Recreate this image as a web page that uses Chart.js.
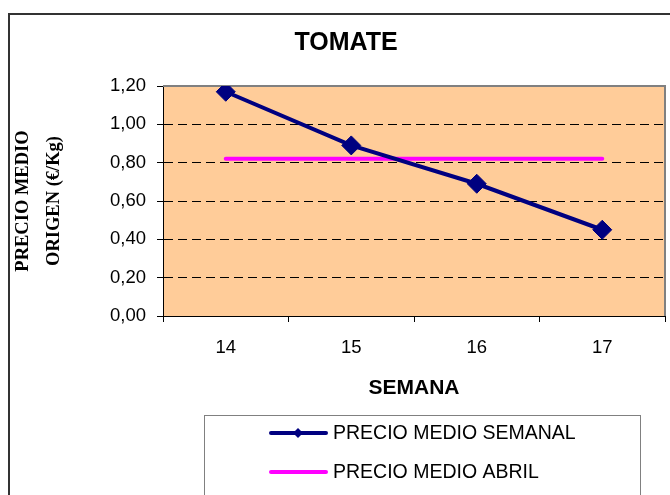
<!DOCTYPE html>
<html>
<head>
<meta charset="utf-8">
<script src="https://cdn.jsdelivr.net/npm/chart.js@4/dist/chart.umd.min.js"></script>
<style>
  html, body { margin: 0; padding: 0; background: #fff; overflow: hidden; }
  #wrap { position: relative; width: 670px; height: 495px; overflow: hidden; }
  canvas { display: block; }
</style>
</head>
<body>
<div id="wrap"><canvas id="chart" width="692" height="495"></canvas></div>
<script>
const semanas = ["14", "15", "16", "17"]
const precioSemanal = [1.17, 0.89, 0.69, 0.45]
const precioAbril = [0.82, 0.82, 0.82, 0.82]
const yTickLabels = ["0,00", "0,20", "0,40", "0,60", "0,80", "1,00", "1,20"]

const sans = "'Liberation Sans', Arial, sans-serif"
const serif = "'Liberation Serif', 'Times New Roman', serif"

// plot background, outer frame and grey top/right edge of the plot
const frame = {
  id: "frame",
  beforeDraw(chart) {
    const { ctx, chartArea: a } = chart
    ctx.save()
    ctx.fillStyle = "#FFCC99"
    ctx.fillRect(a.left, a.top, a.right - a.left, a.bottom - a.top)
    ctx.strokeStyle = "#333"
    ctx.lineWidth = 2
    ctx.strokeRect(9, 14, 900, 700)
    ctx.restore()
  },
  beforeDatasetsDraw(chart) {
    const { ctx, chartArea: a } = chart
    ctx.save()
    ctx.strokeStyle = "#808080"
    ctx.lineWidth = 2
    ctx.beginPath()
    ctx.moveTo(a.left, a.top)
    ctx.lineTo(a.right, a.top)
    ctx.lineTo(a.right, a.bottom)
    ctx.stroke()
    ctx.restore()
  },
}

// boxed legend under the axis title, one series per row
const boxLegend = {
  id: "boxLegend",
  afterDraw(chart) {
    const { ctx } = chart
    ctx.save()
    ctx.strokeStyle = "#808080"
    ctx.lineWidth = 1
    ctx.strokeRect(204.5, 415.5, 436, 200)
    ctx.font = "19.5px " + sans
    ctx.textBaseline = "middle"
    chart.data.datasets.forEach((ds, i) => {
      const y = 433 + i * 39
      ctx.strokeStyle = ds.borderColor
      ctx.lineWidth = 4
      ctx.lineCap = "round"
      ctx.beginPath()
      ctx.moveTo(271, y)
      ctx.lineTo(326, y)
      ctx.stroke()
      if (ds.pointStyle === "rectRot") {
        ctx.fillStyle = ds.borderColor
        ctx.beginPath()
        ctx.moveTo(298 - 5, y)
        ctx.lineTo(298, y - 5)
        ctx.lineTo(298 + 5, y)
        ctx.lineTo(298, y + 5)
        ctx.closePath()
        ctx.fill()
      }
      ctx.fillStyle = "#000"
      ctx.fillText(ds.label, 333, y + 1)
    })
    ctx.restore()
  },
}

new Chart(document.getElementById("chart"), {
  type: "line",
  data: {
    labels: semanas,
    datasets: [
      {
        label: "PRECIO MEDIO SEMANAL",
        data: precioSemanal,
        borderColor: "#000080",
        backgroundColor: "#000080",
        borderWidth: 4,
        pointStyle: "rectRot",
        pointRadius: 9.5,
        pointBorderWidth: 1,
        tension: 0,
      },
      {
        label: "PRECIO MEDIO ABRIL",
        data: precioAbril,
        borderColor: "#FF00FF",
        backgroundColor: "#FF00FF",
        borderWidth: 4,
        borderCapStyle: "round",
        pointRadius: 0,
        tension: 0,
      },
    ],
  },
  options: {
    responsive: false,
    animation: false,
    layout: { padding: { left: 27, right: 27, top: 0, bottom: 0 } },
    plugins: {
      legend: { display: false },
      tooltip: { enabled: false },
      title: {
        display: true,
        text: "TOMATE",
        color: "#000",
        font: { family: sans, size: 25, weight: "bold", lineHeight: 1.2 },
        padding: { top: 28, bottom: 28 },
      },
    },
    scales: {
      x: {
        offset: true,
        grid: { offset: true, drawOnChartArea: false, tickLength: 6, tickColor: "#000" },
        border: { color: "#000", width: 1 },
        ticks: { color: "#000", font: { family: sans, size: 18.5 }, padding: 15 },
        title: {
          display: true,
          text: "SEMANA",
          color: "#000",
          font: { family: sans, size: 21, weight: "bold", lineHeight: 1.2 },
          padding: { top: 0, bottom: 94 },
        },
        afterFit(scale) {
          scale.height = 179
        },
      },
      y: {
        min: 0,
        max: 1.2,
        ticks: {
          stepSize: 0.2,
          color: "#000",
          font: { family: sans, size: 18.5 },
          padding: 11,
          callback: (v, i) => yTickLabels[i],
        },
        grid: {
          color: (c) => (c.index === 0 || c.index === yTickLabels.length - 1 ? "rgba(0,0,0,0)" : "#000"),
          lineWidth: 1,
          tickLength: 6,
          tickColor: "#000",
        },
        border: { color: "#000", width: 1, dash: [9, 5] },
        title: {
          display: true,
          text: ["PRECIO MEDIO", "ORIGEN (€/Kg)"],
          color: "#000",
          font: { family: serif, size: 18.5, weight: "bold", lineHeight: 1.68 },
          padding: { top: -19.5, bottom: 0 },
        },
        afterFit(scale) {
          scale.width = 136
        },
      },
    },
  },
  plugins: [frame, boxLegend],
})
</script>
</body>
</html>
